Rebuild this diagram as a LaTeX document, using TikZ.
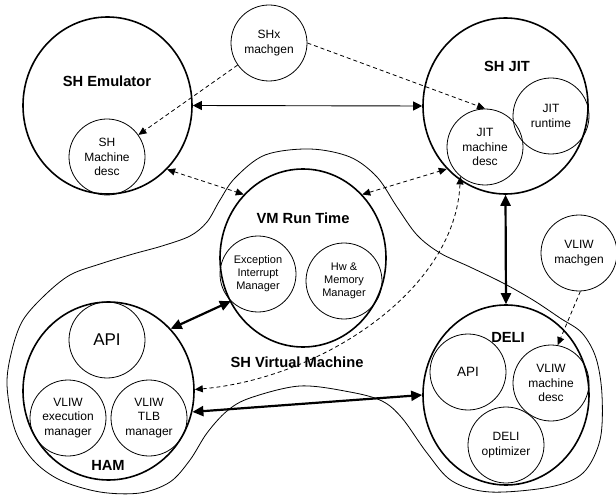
\documentclass[tikz,border=0pt]{standalone}
\usepackage{fontspec}
\setmainfont{Liberation Sans}
\usetikzlibrary{shapes.geometric,arrows.meta}
\begin{document}
\begin{tikzpicture}[x=1pt,y=-1pt,
  big/.style={draw,ellipse,line width=1.6pt,inner sep=0pt},
  small/.style={draw,circle,line width=0.8pt,minimum size=76pt,inner sep=0pt,align=center,font=\fontsize{12}{14.5}\selectfont},
  vmsmall/.style={small,font=\fontsize{11}{13}\selectfont},
  title/.style={font=\fontsize{14.7}{17}\selectfont\bfseries,inner sep=0pt},
  dsh/.style={line width=0.8pt,dash pattern=on 4pt off 3pt},
  thinarr/.style={line width=0.9pt},
  thickarr/.style={line width=2.2pt},
  dtip/.tip={Triangle[length=8pt,width=7pt]},
  ttip/.tip={Triangle[length=9pt,width=9pt]},
  Ttip/.tip={Triangle[length=11pt,width=10pt]},
  boundary/.style={line width=0.8pt}
]
\path[use as bounding box] (0,0) rectangle (616,497);

% SH Virtual Machine boundary
\draw[boundary] plot[smooth cycle, tension=0.55] coordinates {
 (310,149) (350,157) (377,177) (397,207) (417,235) (440,253) (470,267)
 (503,283) (533,300) (560,318) (582,333) (596,358) (602,395) (600,440)
 (583,473) (550,487) (490,492) (452,481) (427,453) (402,418) (382,401)
 (350,392) (300,386) (250,398) (227,411) (207,433) (190,460) (170,482)
 (140,493) (100,492) (60,480) (33,460) (15,430) (7,385) (12,350)
 (23,320) (45,295) (70,275) (100,264) (133,254) (162,246) (190,236)
 (207,222) (220,200) (235,178) (265,155)};

% big circles
\node[big,minimum width=169pt,minimum height=177pt] (emu) at (107.5,105.5) {};
\node[big,minimum width=165pt,minimum height=176pt] (jit) at (505.5,106) {};
\node[big,minimum width=166pt,minimum height=178pt] (vm) at (303,258) {};
\node[big,minimum width=171pt,minimum height=178pt] (ham) at (108.5,391) {};
\node[big,minimum width=166pt,minimum height=180pt] (deli) at (506,395) {};

% titles
\node[title] (emut) at (107,81) {SH Emulator};
\node[title] (jitt) at (507,66) {SH JIT};
\node[title] (vmt) at (303,218) {VM Run Time};
\node[title] (hamt) at (108,465) {HAM};
\node[title] (delit) at (508,337) {DELI};
\node[title] (svm) at (297,362) {SH Virtual Machine};

% small circles
\node[small] (shx) at (269,43) {SHx\\machgen};
\node[small] (shmd) at (107,157) {SH\\Machine\\desc};
\node[small] (jitmd) at (485,147) {JIT\\machine\\desc};
\node[small] (jitrt) at (551,116) {JIT\\runtime};
\node[vmsmall] (exc) at (258,274) {Exception\\Interrupt\\Manager};
\node[vmsmall] (hwm) at (344,281) {Hw \&\\Memory\\Manager};
\node[small,font=\fontsize{17}{20}\selectfont] (hamapi) at (107,340) {API};
\node[small] (exec) at (68,418) {\raisebox{5pt}{\begin{tabular}{@{}c@{}}VLIW\\execution\\manager\end{tabular}}};
\node[small] (tlb) at (149,418) {\raisebox{5pt}{\begin{tabular}{@{}c@{}}VLIW\\TLB\\manager\end{tabular}}};
\node[small,font=\fontsize{13.5}{16}\selectfont] (deliapi) at (468,372) {API};
\node[small] (vmd) at (551,383) {VLIW\\machine\\desc};
\node[small] (opt) at (506,445) {DELI\\optimizer};
\node[small] (vmg) at (579,253) {VLIW\\machgen};

% connectors
\draw[dsh,-dtip] (shx) -- (shmd);
\draw[dsh,-dtip] (shx.east) -- (jitmd.north);
\draw[thinarr,ttip-ttip] (emu.east) -- (jit.west);
\draw[dsh,dtip-dtip] (emu.-47) -- (vm.133);
\draw[dsh,dtip-dtip] (vm.47) -- (jit.-133);
\draw[dsh,dtip-dtip] (ham.1) .. controls +(125,-11) and +(-5,115) .. (jitmd.-130);
\draw[thickarr,Ttip-Ttip] (jit.south) -- (deli.north);
\draw[thickarr,Ttip-Ttip] (ham.45) -- (exc.225);
\draw[thickarr,Ttip-Ttip] (ham.-14) -- (deli.west);
\draw[dsh,-dtip] (vmg.-88) -- (vmd.80);
\end{tikzpicture}
\end{document}
